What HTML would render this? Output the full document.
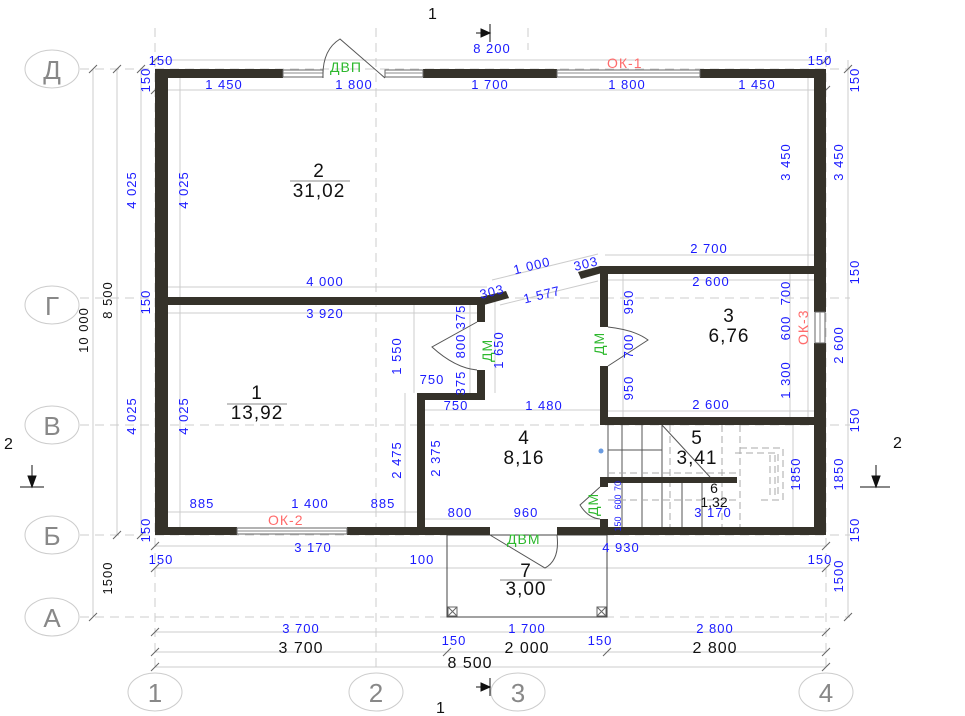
<!DOCTYPE html>
<html><head><meta charset="utf-8"><style>
html,body{margin:0;padding:0;background:#fff;}
svg{display:block;}
.b{fill:#1a1aff;font-family:"Liberation Sans",sans-serif;font-size:13px;letter-spacing:1px;}
.k{fill:#111;font-family:"Liberation Sans",sans-serif;}
.g{fill:#2db82d;font-family:"Liberation Sans",sans-serif;font-size:14px;letter-spacing:1px;}
.r{fill:#ff6b6b;font-family:"Liberation Sans",sans-serif;font-size:14px;letter-spacing:1px;}
.ax{fill:#888;font-family:"Liberation Sans",sans-serif;font-size:26px;}
.d{stroke:#ccc;stroke-width:1;fill:none;}
.dash{stroke:#ccc;stroke-width:1;stroke-dasharray:9 6;fill:none;}
.w{fill:#35322a;}
.t{stroke:#555;stroke-width:1;fill:none;}
</style></head><body>
<svg width="965" height="716" viewBox="0 0 965 716" xmlns="http://www.w3.org/2000/svg">
<g class="dash">
<line x1="155" y1="28" x2="155" y2="675"/>
<line x1="376" y1="28" x2="376" y2="675"/>
<line x1="528" y1="28" x2="528" y2="50"/>
<line x1="826" y1="28" x2="826" y2="675"/>
<line x1="80" y1="69" x2="850" y2="69"/>
<line x1="80" y1="298" x2="850" y2="298"/>
<line x1="80" y1="425" x2="850" y2="425"/>
<line x1="80" y1="535" x2="850" y2="535"/>
<line x1="80" y1="617" x2="850" y2="617"/>
</g>
<g fill="#fff" stroke="#ccc">
<ellipse cx="52" cy="69" rx="27" ry="19"/>
<ellipse cx="52" cy="305" rx="27" ry="19"/>
<ellipse cx="52" cy="425" rx="27" ry="19"/>
<ellipse cx="52" cy="535" rx="27" ry="19"/>
<ellipse cx="52" cy="617" rx="27" ry="19"/>
<ellipse cx="155" cy="692" rx="27" ry="19"/>
<ellipse cx="376" cy="692" rx="27" ry="19"/>
<ellipse cx="518" cy="692" rx="27" ry="19"/>
<ellipse cx="826" cy="692" rx="27" ry="19"/>
</g>
<g class="ax" text-anchor="middle">
<text x="52" y="79">Д</text><text x="52" y="315">Г</text><text x="52" y="435">В</text>
<text x="52" y="545">Б</text><text x="52" y="627">А</text>
<text x="155" y="702">1</text><text x="376" y="702">2</text><text x="518" y="702">3</text><text x="826" y="702">4</text>
</g>
<g class="d">
<line x1="93" y1="69" x2="93" y2="617"/>
<line x1="117" y1="69" x2="117" y2="535"/>
<line x1="141" y1="69" x2="141" y2="535"/>
<line x1="180" y1="78" x2="180" y2="527"/>
<line x1="848" y1="60" x2="848" y2="617"/>
<line x1="808" y1="78" x2="808" y2="266"/>
<line x1="808" y1="273" x2="808" y2="417"/>
<line x1="793" y1="425" x2="793" y2="527"/>
<line x1="155" y1="60" x2="826" y2="60"/>
<line x1="155" y1="90" x2="826" y2="90"/>
<line x1="168" y1="287" x2="487" y2="287"/>
<line x1="168" y1="313" x2="477" y2="313"/>
<line x1="605" y1="255" x2="814" y2="255"/>
<line x1="608" y1="280" x2="814" y2="280"/>
<line x1="608" y1="411" x2="814" y2="411"/>
<line x1="425" y1="410" x2="600" y2="410"/>
<line x1="425" y1="519" x2="600" y2="519"/>
<line x1="168" y1="512" x2="417" y2="512"/>
<line x1="155" y1="546" x2="826" y2="546"/>
<line x1="155" y1="568" x2="826" y2="568"/>
<line x1="155" y1="632" x2="826" y2="632"/>
<line x1="155" y1="652" x2="826" y2="652"/>
<line x1="155" y1="667" x2="826" y2="667"/>
<line x1="405" y1="393" x2="405" y2="527"/>
<line x1="414" y1="300" x2="414" y2="393"/>
<line x1="495" y1="300" x2="495" y2="393"/>
<line x1="470" y1="300" x2="470" y2="393"/>
<line x1="623" y1="273" x2="623" y2="417"/>
<line x1="790" y1="273" x2="790" y2="417"/>
<line x1="492" y1="280" x2="598" y2="254"/>
<line x1="500" y1="305" x2="598" y2="281"/>
<line x1="447" y1="535" x2="447" y2="617"/>
<line x1="607" y1="535" x2="607" y2="617"/>
</g>
<g stroke="#666" stroke-width="1">
<path d="M151 64l8-8M822 64l8-8M151 94l8-8M822 94l8-8M151 550l8-8M822 550l8-8M151 572l8-8M822 572l8-8M151 636l8-8M822 636l8-8M151 656l8-8M443 656l8-8M603 656l8-8M822 656l8-8M151 671l8-8M822 671l8-8M89 73l8-8M89 621l8-8M113 73l8-8M113 539l8-8M137 73l8-8M137 539l8-8M844 73l8-8M844 621l8-8"/>
</g>
<rect x="447" y="535" width="160" height="82" fill="none" stroke="#444"/>
<g fill="none" stroke="#666"><rect x="448" y="607" width="9" height="9"/><path d="M448 607l9 9M457 607l-9 9"/><rect x="597" y="607" width="9" height="9"/><path d="M597 607l9 9M606 607l-9 9"/></g>
<g stroke="#555" stroke-width="1" fill="none">
<line x1="608" y1="425" x2="608" y2="477"/>
<line x1="622" y1="425" x2="622" y2="477"/><line x1="642" y1="425" x2="642" y2="477"/><line x1="662" y1="425" x2="662" y2="477"/>
<line x1="662" y1="425" x2="710" y2="477"/>
<line x1="608" y1="450" x2="662" y2="450"/>
<line x1="622" y1="482" x2="622" y2="527"/><line x1="642" y1="482" x2="642" y2="527"/><line x1="662" y1="482" x2="662" y2="527"/><line x1="682" y1="482" x2="682" y2="527"/><line x1="702" y1="482" x2="702" y2="527"/>
</g>
<g stroke="#aaa" stroke-dasharray="7 4" fill="none">
<path d="M670 425V527M722 425V527M740 425V527M608 473H740M608 500H740M740 448H783V500H760M735 453H778V495"/>
<path d="M770 455V495M775 455V495"/>
</g>
<circle cx="601" cy="451" r="2.5" fill="#6a9be0"/>
<g class="w">
<rect x="155" y="69" width="128" height="9"/>
<rect x="423" y="69" width="134" height="9"/>
<rect x="700" y="69" width="126" height="9"/>
<rect x="155" y="69" width="13" height="466"/>
<rect x="814" y="69" width="12" height="243"/>
<rect x="814" y="343" width="12" height="192"/>
<rect x="155" y="527" width="82" height="8"/>
<rect x="347" y="527" width="143" height="8"/>
<rect x="557" y="527" width="269" height="8"/>
<rect x="168" y="297" width="317" height="8"/>
<rect x="477" y="297" width="8" height="25"/>
<rect x="477" y="370" width="8" height="30"/>
<rect x="417" y="393" width="68" height="7"/>
<rect x="417" y="393" width="8" height="134"/>
<rect x="600" y="266" width="214" height="8"/>
<rect x="600" y="266" width="8" height="61"/>
<rect x="600" y="366" width="8" height="59"/>
<rect x="600" y="417" width="214" height="8"/>
<rect x="600" y="477" width="137" height="6"/>
<rect x="600" y="477" width="8" height="10"/>
<rect x="600" y="519" width="8" height="8"/>
<polygon points="480,297 506,291 509,298 484,305"/>
<polygon points="578,272 600,266 602,273 581,279"/>
</g>
<g fill="#fff" stroke="#666">
<rect x="283" y="70" width="40" height="7"/><rect x="385" y="70" width="38" height="7"/>
<rect x="557" y="70" width="143" height="7"/>
<rect x="237" y="528" width="110" height="6"/>
<rect x="815" y="312" width="10" height="31"/>
</g>
<g stroke="#888"><line x1="557" y1="73" x2="700" y2="73"/><line x1="237" y1="531" x2="347" y2="531"/><line x1="283" y1="73" x2="323" y2="73"/><line x1="385" y1="73" x2="423" y2="73"/><line x1="820" y1="312" x2="820" y2="343"/></g>
<g class="t">
<path d="M323 78 Q322 50 340 39 L385 78"/>
<path d="M477 322 L432 347 Q455 368 477 370"/>
<path d="M608 327 Q635 330 648 340 L608 366"/>
<path d="M557 535 Q560 560 545 568 L490 535"/>
<path d="M600 487 L580 505 Q588 518 600 519"/>
</g>
<g stroke="#111" fill="#111">
<line x1="490" y1="24" x2="490" y2="42"/><path d="M476 33H490" /><polygon points="481,29 490,33 481,37"/>
<line x1="490" y1="678" x2="490" y2="696"/><path d="M476 687H490"/><polygon points="481,683 490,687 481,691"/>
<line x1="20" y1="487" x2="44" y2="487"/><line x1="32" y1="465" x2="32" y2="487"/><polygon points="28,476 36,476 32,487"/>
<line x1="860" y1="487" x2="890" y2="487"/><line x1="876" y1="465" x2="876" y2="487"/><polygon points="872,476 880,476 876,487"/>
</g>
<g class="k" font-size="16"><text x="428" y="19">1</text><text x="436" y="713">1</text><text x="4" y="449">2</text><text x="893" y="448">2</text></g>
<g class="k" text-anchor="middle" font-size="19" letter-spacing="1">
<text x="319" y="177">2</text><text x="319" y="197">31,02</text>
<text x="257" y="399">1</text><text x="257" y="419">13,92</text>
<text x="729" y="322">3</text><text x="729" y="342">6,76</text>
<text x="524" y="444">4</text><text x="524" y="464">8,16</text>
<text x="697" y="444">5</text><text x="697" y="464">3,41</text>
<text x="526" y="577">7</text><text x="526" y="595">3,00</text>
</g>
<g class="k" text-anchor="middle" font-size="14"><text x="714" y="493">6</text><text x="714" y="507">1,32</text></g>
<g stroke="#888"><line x1="290" y1="181" x2="350" y2="181"/><line x1="227" y1="404" x2="287" y2="404"/><line x1="500" y1="580" x2="552" y2="580"/></g>
<text class="g" x="330" y="72">ДВП</text>
<text class="g" x="507" y="544">ДВМ</text>
<text class="r" x="607" y="68">ОК-1</text>
<text class="r" x="268" y="525">ОК-2</text>
<text class="r" transform="translate(808,345) rotate(-90)">ОК-3</text>
<text class="g" transform="translate(492,362) rotate(-90)">ДМ</text>
<text class="g" transform="translate(604,355) rotate(-90)">ДМ</text>
<text class="g" transform="translate(598,516) rotate(-90)">ДМ</text>
<g class="b" text-anchor="middle">
<text x="492" y="53">8 200</text>
<text x="161" y="65">150</text><text x="820" y="65">150</text>
<text x="224" y="89">1 450</text><text x="354" y="89">1 800</text><text x="490" y="89">1 700</text><text x="627" y="89">1 800</text><text x="757" y="89">1 450</text>
<text x="325" y="286">4 000</text><text x="325" y="318">3 920</text>
<text x="709" y="253">2 700</text><text x="711" y="286">2 600</text><text x="711" y="409">2 600</text>
<text x="456" y="410">750</text><text x="432" y="384">750</text><text x="544" y="410">1 480</text>
<text x="202" y="508">885</text><text x="310" y="508">1 400</text><text x="383" y="508">885</text>
<text x="460" y="517">800</text><text x="526" y="517">960</text>
<text x="313" y="552">3 170</text><text x="621" y="552">4 930</text>
<text x="161" y="564">150</text><text x="422" y="564">100</text><text x="820" y="564">150</text>
<text x="301" y="633">3 700</text><text x="527" y="633">1 700</text><text x="715" y="633">2 800</text>
<text x="454" y="645">150</text><text x="600" y="645">150</text>
<text x="713" y="517">3 170</text>
<text transform="translate(533,270) rotate(-14)">1 000</text>
<text transform="translate(543,299) rotate(-14)">1 577</text>
<text transform="translate(493,296) rotate(-14)">303</text>
<text transform="translate(587,268) rotate(-14)">303</text>
</g>
<g class="b" text-anchor="middle">
<text transform="translate(150,80) rotate(-90)">150</text>
<text transform="translate(136,190) rotate(-90)">4 025</text>
<text transform="translate(188,190) rotate(-90)">4 025</text>
<text transform="translate(150,302) rotate(-90)">150</text>
<text transform="translate(136,416) rotate(-90)">4 025</text>
<text transform="translate(188,416) rotate(-90)">4 025</text>
<text transform="translate(150,530) rotate(-90)">150</text>
<text transform="translate(401,356) rotate(-90)">1 550</text>
<text transform="translate(401,460) rotate(-90)">2 475</text>
<text transform="translate(440,458) rotate(-90)">2 375</text>
<text transform="translate(465,317) rotate(-90)">375</text>
<text transform="translate(465,346) rotate(-90)">800</text>
<text transform="translate(465,383) rotate(-90)">375</text>
<text transform="translate(503,350) rotate(-90)">1 650</text>
<text transform="translate(633,302) rotate(-90)">950</text>
<text transform="translate(633,346) rotate(-90)">700</text>
<text transform="translate(633,388) rotate(-90)">950</text>
<text transform="translate(790,293) rotate(-90)">700</text>
<text transform="translate(790,328) rotate(-90)">600</text>
<text transform="translate(790,380) rotate(-90)">1 300</text>
<text transform="translate(790,162) rotate(-90)">3 450</text>
<text transform="translate(843,162) rotate(-90)">3 450</text>
<text transform="translate(859,80) rotate(-90)">150</text>
<text transform="translate(859,272) rotate(-90)">150</text>
<text transform="translate(843,345) rotate(-90)">2 600</text>
<text transform="translate(859,420) rotate(-90)">150</text>
<text transform="translate(843,474) rotate(-90)">1850</text>
<text transform="translate(800,474) rotate(-90)">1850</text>
<text transform="translate(859,530) rotate(-90)">150</text>
<text transform="translate(843,576) rotate(-90)">1500</text>
<text transform="translate(621,486) rotate(-90)" style="font-size:9px;letter-spacing:0">70</text>
<text transform="translate(621,502) rotate(-90)" style="font-size:9px;letter-spacing:0">600</text>
<text transform="translate(621,524) rotate(-90)" style="font-size:9px;letter-spacing:0">150</text>
</g>
<text style="fill:#111;font-family:'Liberation Sans',sans-serif;font-size:16px;letter-spacing:1px" text-anchor="middle" x="301" y="653">3 700</text>
<text style="fill:#111;font-family:'Liberation Sans',sans-serif;font-size:16px;letter-spacing:1px" text-anchor="middle" x="527" y="653">2 000</text>
<text style="fill:#111;font-family:'Liberation Sans',sans-serif;font-size:16px;letter-spacing:1px" text-anchor="middle" x="715" y="653">2 800</text>
<text style="fill:#111;font-family:'Liberation Sans',sans-serif;font-size:16px;letter-spacing:1px" text-anchor="middle" x="470" y="668">8 500</text>
<g class="k" text-anchor="middle" font-size="13" letter-spacing="1">
<text transform="translate(88,330) rotate(-90)">10 000</text>
<text transform="translate(112,300) rotate(-90)">8 500</text>
<text transform="translate(112,578) rotate(-90)">1500</text>
</g>
</svg>
</body></html>
